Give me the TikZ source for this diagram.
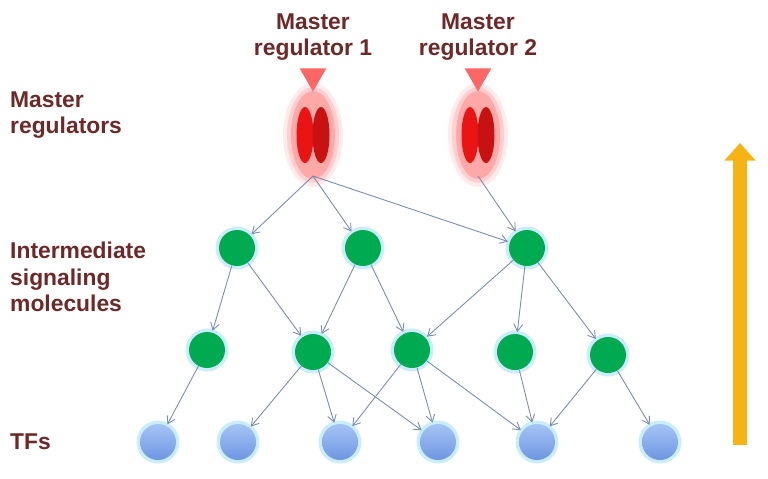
\documentclass[tikz,border=0pt]{standalone}
\usepackage{fontspec}
\setmainfont{Liberation Sans}
\usetikzlibrary{arrows.meta}
\usetikzlibrary{shapes.geometric}
\definecolor{labelred}{RGB}{110,40,40}
\definecolor{edgeblue}{RGB}{120,140,180}
\definecolor{molgreen}{RGB}{0,170,80}
\definecolor{tfblue}{RGB}{110,150,225}
\definecolor{tflight}{RGB}{165,195,245}
\definecolor{mrred}{RGB}{235,20,20}
\definecolor{arrowgold}{RGB}{245,180,20}
\begin{document}
\begin{tikzpicture}[x=0.02cm, y=-0.02cm,
		label/.style={text=labelred, font=\fontsize{13}{15}\selectfont\bfseries, align=left},
		molecule/.style={circle, fill=molgreen, minimum size=0.72cm, inner sep=0pt},
		tf/.style={circle, top color=tflight, bottom color=tfblue, minimum size=0.72cm, inner sep=0pt},
		glow/.style={circle, fill=cyan!60, opacity=0.35, minimum size=0.86cm, inner sep=0pt},
		link/.style={draw=edgeblue, line width=0.5pt, -{Straight Barb[length=4pt,width=5pt]}, shorten >=1pt},
		marker/.style={regular polygon, regular polygon sides=3, shape border rotate=180, fill=red!60!white, minimum size=0.62cm, inner sep=0pt},
	]
	\fill[white] (0,0) rectangle (768,478);

	% left labels
	\node[label, anchor=west] (lmr) at (4,115) {Master\\regulators};
	\node[label, anchor=west] (lism) at (4,277) {Intermediate\\signaling\\molecules};
	\node[label, anchor=west] (ltf) at (4,442) {TFs};

	% master regulators
	\foreach \n/\x in {1/313, 2/478} {
		\foreach \r/\o in {30/0.08, 26/0.12, 22/0.18}
			\fill[red, opacity=\o] (\x,135) ellipse ({\r*0.02cm} and {(\r+22)*0.02cm});
		\fill[mrred] (\x-8,135) ellipse (0.17cm and 0.56cm);
		\fill[mrred!85!black] (\x+8,135) ellipse (0.17cm and 0.56cm);
		\coordinate (mr\n) at (\x,176);
		\node[marker] (tri\n) at (\x,76) {};
		\node[label, align=center] (t\n) at (\x,37) {Master\\regulator \n};
	}

	% intermediate molecules
	\foreach \n/\x/\y in {a/237/248, b/363/248, c/527/248,
			d/207/350, e/313/352, f/412/350, g/515/352, h/608/355} {
		\node[glow] at (\x,\y) {};
		\node[molecule] (m\n) at (\x,\y) {};
	}

	% TFs
	\foreach \n/\x in {1/158, 2/238, 3/340, 4/438, 5/537, 6/660} {
		\node[glow] at (\x,442) {};
		\node[tf] (tf\n) at (\x,442) {};
	}

	% connections
	\foreach \s/\t in {mr1/ma, mr1/mb, mr1/mc, mr2/mc,
			ma/md, ma/me, mb/me, mb/mf, mc/mf, mc/mg, mc/mh,
			md/tf1, me/tf2, me/tf3, me/tf4, mf/tf3, mf/tf4, mf/tf5,
			mg/tf5, mh/tf5, mh/tf6}
		\draw[link] (\s) -- (\t);

	% direction arrow
	\coordinate (up0) at (740,445);
	\coordinate (up1) at (740,143);
	\draw[arrowgold, line width=0.28cm, -{Triangle[length=0.35cm,width=0.6cm]}] (up0) -- (up1);
\end{tikzpicture}
\end{document}
